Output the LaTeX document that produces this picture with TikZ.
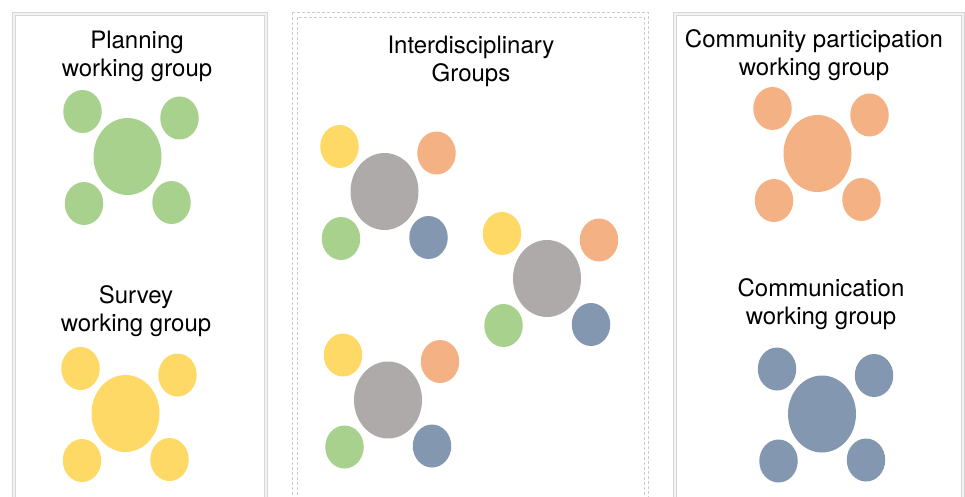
\documentclass[tikz,border=0pt]{standalone}
\usepackage{fontspec}
\setmainfont{TeX Gyre Heros}
\usetikzlibrary{shapes.geometric}

\definecolor{seatgreen}{HTML}{A9D18E}
\definecolor{seatyellow}{HTML}{FFD966}
\definecolor{seatorange}{HTML}{F4B183}
\definecolor{seatblue}{HTML}{8497B0}
\definecolor{seatgray}{HTML}{AEAAAA}

% one table: centre seat and four seats round it
\newcommand{\seatgroup}[7]{%
    \node[bigseat, fill=#3] (#1) at (#2) {};
    \node[seat, fill=#4] (#1-tl) at ([shift={(-45,-45)}]#1) {};
    \node[seat, fill=#5] (#1-tr) at ([shift={(52,-38.5)}]#1) {};
    \node[seat, fill=#6] (#1-bl) at ([shift={(-43.5,47)}]#1) {};
    \node[seat, fill=#7] (#1-br) at ([shift={(44,46)}]#1) {};
}

\begin{document}
\begin{tikzpicture}[x=1pt, y=-1pt,
    seat/.style={ellipse, inner sep=0pt, minimum width=38.5pt, minimum height=43pt},
    bigseat/.style={ellipse, inner sep=0pt, minimum width=68pt, minimum height=77pt},
    panel/.style={draw=gray!32, double=gray!10, line width=1.2pt, double distance=1.8pt},
    dashframe/.style={draw=gray!40, line width=0.6pt, dash pattern=on 3pt off 2pt},
    heading/.style={align=center, inner sep=0pt, font=\fontsize{24}{28}\selectfont}]

    \useasboundingbox (0,0) rectangle (965,497);
    \clip (0,0) rectangle (965,497);

    \draw[panel] (14,14) rectangle (266,530);
    \draw[panel] (675,14) rectangle (963,530);
    \draw[dashframe] (292,12) rectangle (648,530);
    \draw[dashframe] (297,17) rectangle (644,530);

    \node[heading] (plantitle) at (137,56) {Planning\\working group};
    \node[heading] (surveytitle) at (136,311) {Survey\\working group};
    \node[heading] (intertitle) at (471,61.5) {Interdisciplinary\\Groups};
    \node[heading] (partitle) at (814,55) {Community participation\\working group};
    \node[heading] (commtitle) at (821,304.5) {Communication\\working group};

    \seatgroup{plan}{127.5,156.5}{seatgreen}{seatgreen}{seatgreen}{seatgreen}{seatgreen}
    \seatgroup{survey}{125.5,413.5}{seatyellow}{seatyellow}{seatyellow}{seatyellow}{seatyellow}
    \seatgroup{part}{817.5,153.5}{seatorange}{seatorange}{seatorange}{seatorange}{seatorange}
    \seatgroup{comm}{822,414}{seatblue}{seatblue}{seatblue}{seatblue}{seatblue}

    \seatgroup{intera}{384.5,191.5}{seatgray}{seatyellow}{seatorange}{seatgreen}{seatblue}
    \seatgroup{interb}{547,278.5}{seatgray}{seatyellow}{seatorange}{seatgreen}{seatblue}
    \seatgroup{interc}{388,400}{seatgray}{seatyellow}{seatorange}{seatgreen}{seatblue}

\end{tikzpicture}
\end{document}
